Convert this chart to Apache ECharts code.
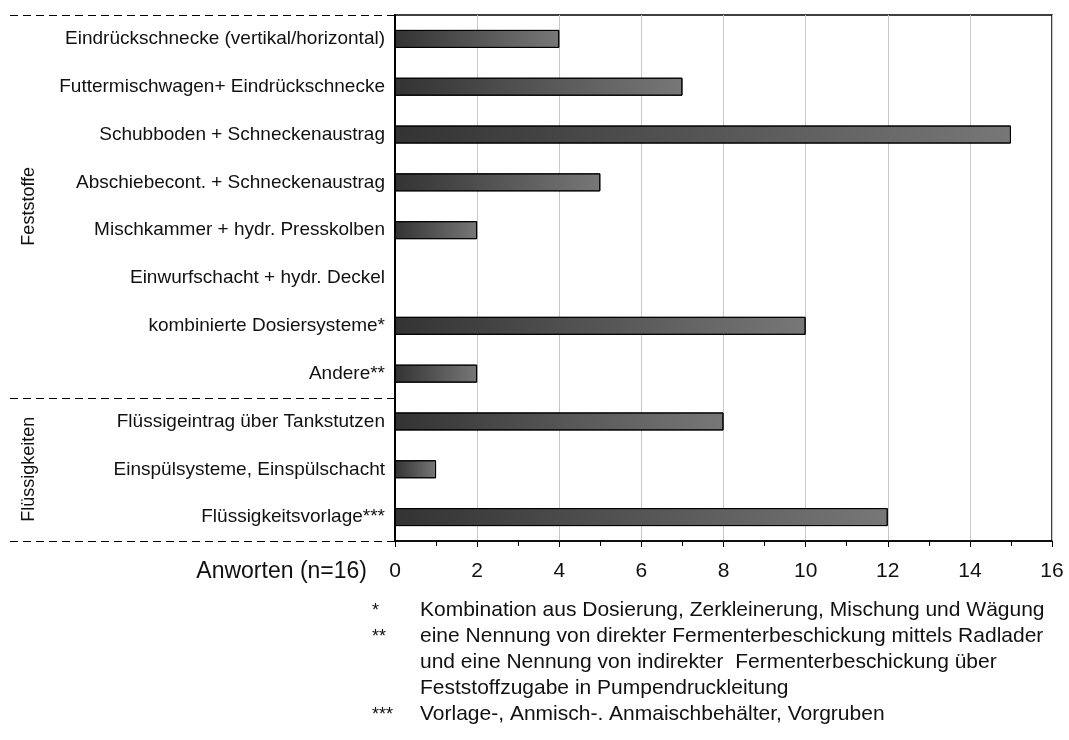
<!DOCTYPE html>
<html><head><meta charset="utf-8">
<script src="https://cdn.jsdelivr.net/npm/echarts@6/dist/echarts.min.js"></script>
<style>html,body{margin:0;padding:0;background:#fff}#c{width:1069px;height:740px}</style>
</head><body><div id="c"></div>
<script>
const categories = [
  'Eindrückschnecke (vertikal/horizontal)',
  'Futtermischwagen+ Eindrückschnecke',
  'Schubboden + Schneckenaustrag',
  'Abschiebecont. + Schneckenaustrag',
  'Mischkammer + hydr. Presskolben',
  'Einwurfschacht + hydr. Deckel',
  'kombinierte Dosiersysteme*',
  'Andere**',
  'Flüssigeintrag über Tankstutzen',
  'Einspülsysteme, Einspülschacht',
  'Flüssigkeitsvorlage***'
];
const values = [4, 7, 15, 5, 2, 0, 10, 2, 8, 1, 12];
const groups = [
  {name: 'Feststoffe', from: 0, to: 7},
  {name: 'Flüssigkeiten', from: 8, to: 10}
];
const axisName = 'Anworten (n=16)';
const footnoteMarks = ['*', '**', '', '', '***'];
const footnoteLines = [
  'Kombination aus Dosierung, Zerkleinerung, Mischung und Wägung',
  'eine Nennung von direkter Fermenterbeschickung mittels Radlader',
  'und eine Nennung von indirekter  Fermenterbeschickung über',
  'Feststoffzugabe in Pumpendruckleitung',
  'Vorlage-, Anmisch-. Anmaischbehälter, Vorgruben'
];

const font = '"Liberation Sans", Arial, sans-serif';
const chart = echarts.init(document.getElementById('c'));
const option = {
  animation: false,
  grid: {left: 395, right: 17, top: 15, bottom: 199, show: true, borderColor: '#000', borderWidth: 1.5},
  xAxis: {
    type: 'value', min: 0, max: 16, interval: 2,
    axisLine: {show: true, onZero: false, lineStyle: {color: '#000', width: 1.5}},
    axisTick: {show: true, length: 6, lineStyle: {color: '#000'}},
    minorTick: {show: true, splitNumber: 2, length: 5, lineStyle: {color: '#000'}},
    splitLine: {show: true, lineStyle: {color: '#c8c8c8', width: 1}},
    axisLabel: {color: '#111', fontFamily: font, fontSize: 21, margin: 20}
  },
  yAxis: {
    type: 'category', data: categories, inverse: true,
    axisLine: {show: true, lineStyle: {color: '#000', width: 2}},
    axisTick: {show: false},
    axisLabel: {color: '#111', fontFamily: font, fontSize: 19, margin: 10}
  },
  series: [{
    type: 'bar', data: values, barWidth: 18,
    itemStyle: {
      borderColor: '#000', borderWidth: 1,
      color: new echarts.graphic.LinearGradient(0, 0, 1, 0, [
        {offset: 0, color: '#333333'}, {offset: 1, color: '#777777'}
      ])
    }
  }]
};
chart.setOption(option);

function build() {
  const g = [];
  const band = chart.convertToPixel({yAxisIndex: 0}, 1) - chart.convertToPixel({yAxisIndex: 0}, 0);
  const x0 = chart.convertToPixel({xAxisIndex: 0}, 0);
  const yAt = i => chart.convertToPixel({yAxisIndex: 0}, i);
  const bounds = new Set();
  groups.forEach(gr => { bounds.add(gr.from - 0.5); bounds.add(gr.to + 0.5); });
  [...bounds].forEach(b => {
    const y = Math.round(yAt(0) + (b) * band) + 0.5;
    g.push({type: 'line', shape: {x1: 10, y1: y, x2: x0, y2: y},
      style: {stroke: '#000', lineWidth: 1, lineDash: [8, 5]}, silent: true});
  });
  groups.forEach(gr => {
    const yc = (yAt(gr.from) + yAt(gr.to)) / 2;
    g.push({type: 'text', x: 29, y: yc, rotation: Math.PI / 2,
      style: {text: gr.name, font: '18px ' + font, fill: '#111', align: 'center', verticalAlign: 'middle'}});
  });
  const xAxisY = yAt(categories.length - 1) + band / 2;
  g.push({type: 'text', x: 367, y: xAxisY + 31,
    style: {text: axisName, font: '23px ' + font, fill: '#111', align: 'right', verticalAlign: 'middle'}});
  footnoteLines.forEach((line, i) => {
    const yy = xAxisY + 69 + i * 26;
    if (footnoteMarks[i]) g.push({type: 'text', x: 372, y: yy + 1,
      style: {text: footnoteMarks[i], font: '18px ' + font, fill: '#111', align: 'left', verticalAlign: 'middle'}});
    g.push({type: 'text', x: 420, y: yy,
      style: {text: line, font: '21px ' + font, fill: '#111', align: 'left', verticalAlign: 'middle'}});
  });
  chart.setOption({graphic: g});
}
build();
</script></body></html>
